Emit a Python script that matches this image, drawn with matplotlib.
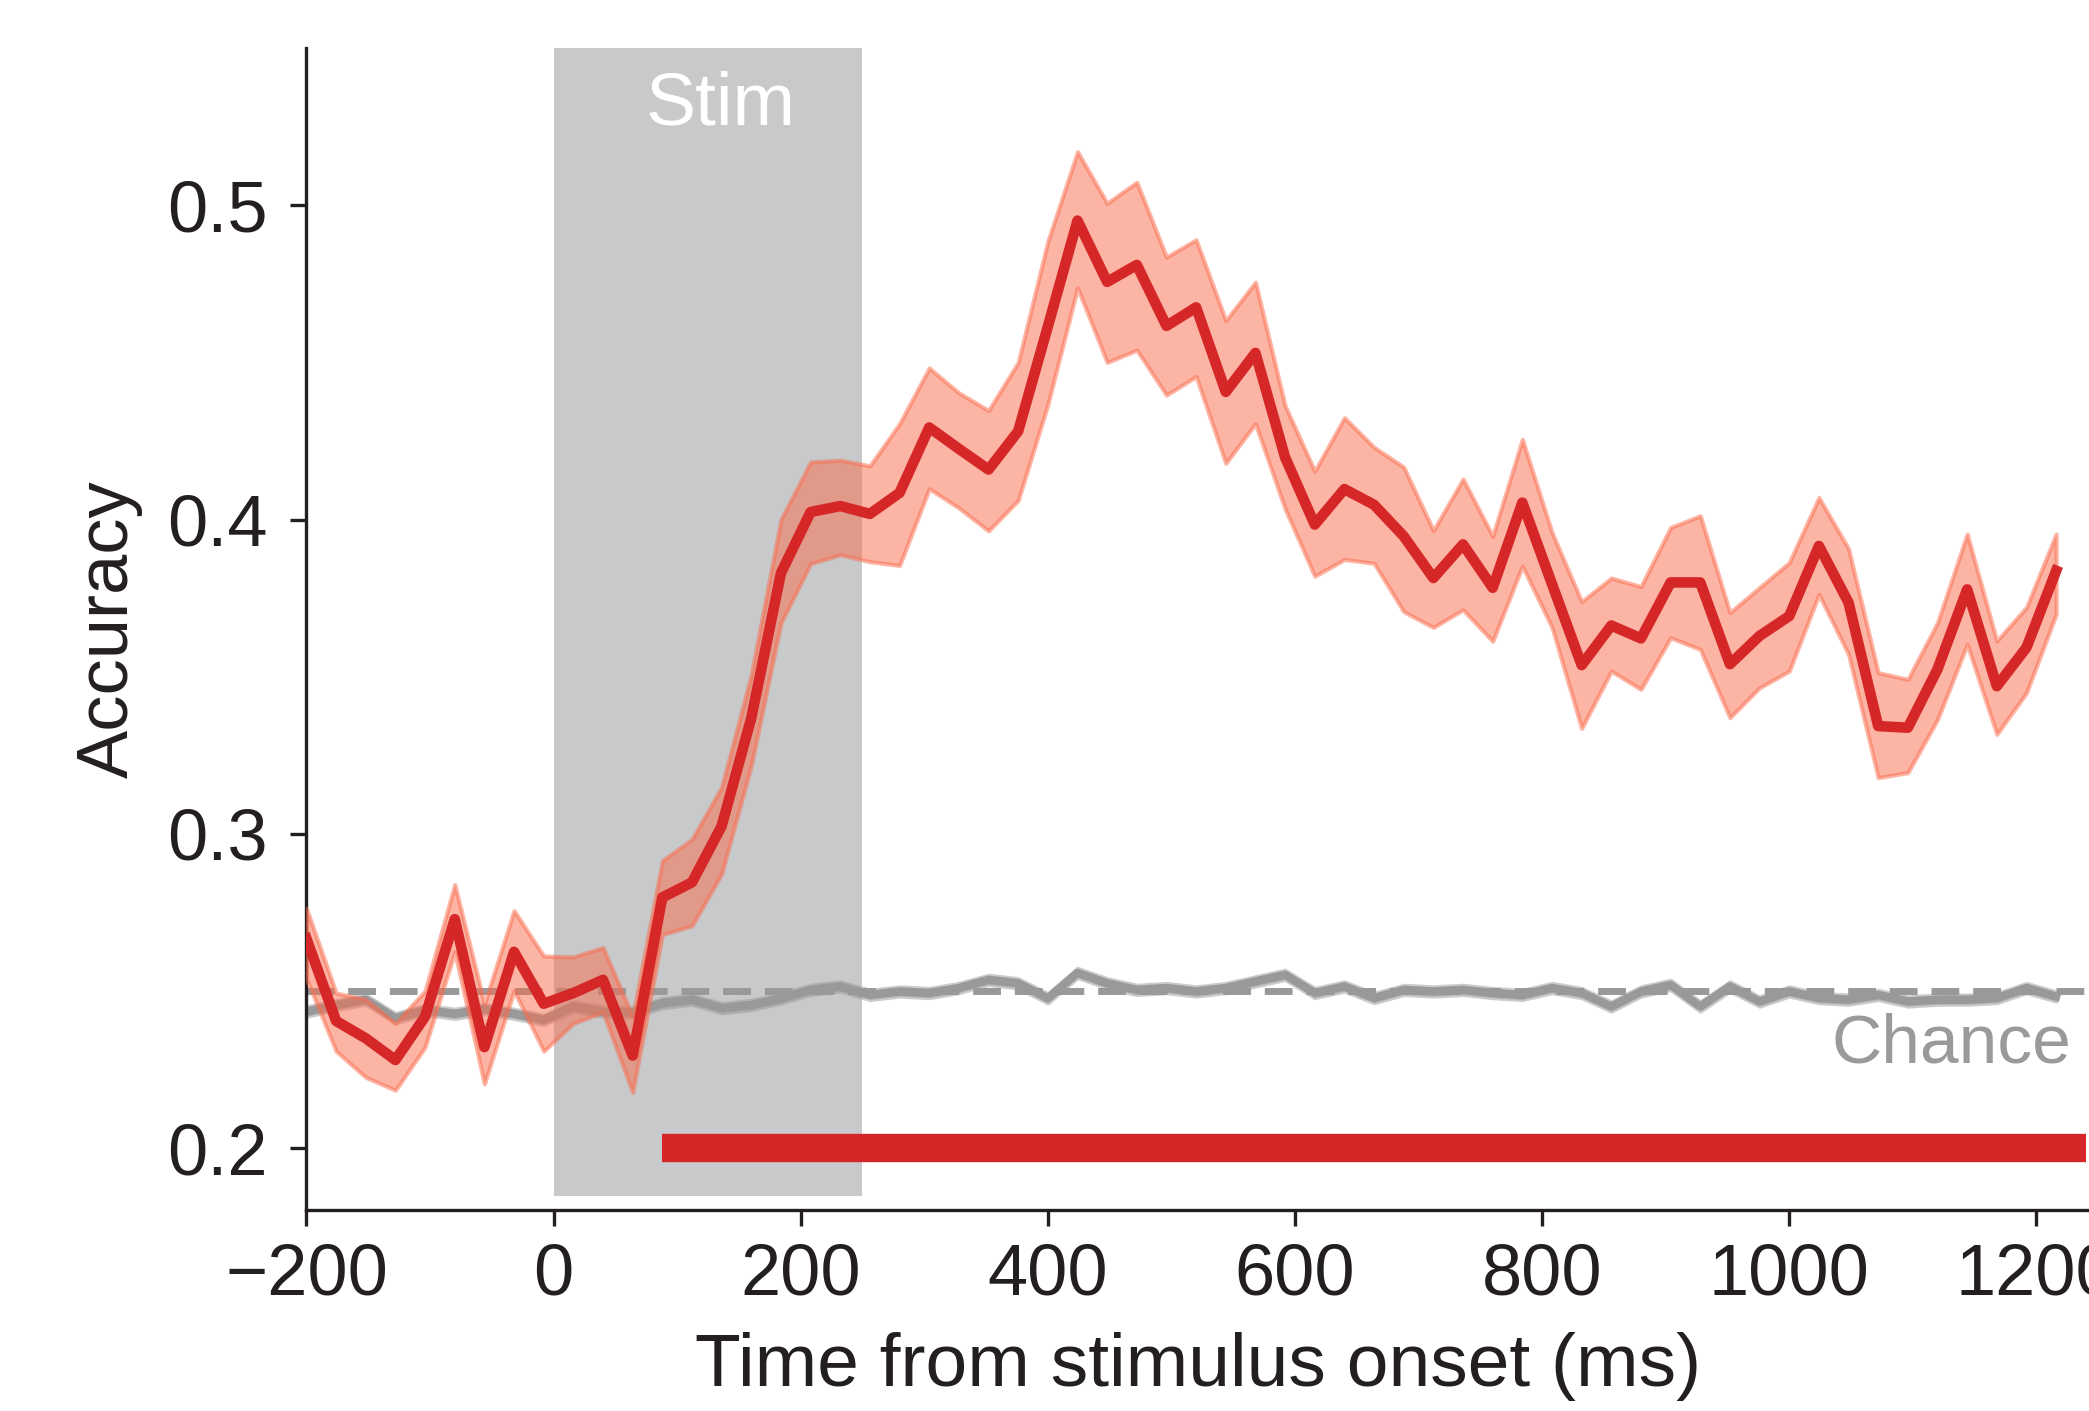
import numpy as np
import matplotlib
matplotlib.use("Agg")
import matplotlib.pyplot as plt

plt.rcParams['font.family'] = ['Liberation Sans', 'DejaVu Sans']

# sample times (ms), one every 24 ms
times = np.arange(-200, 1217, 24)

acc_mean = [0.2667, 0.2405, 0.2350, 0.2281, 0.2419, 0.2729, 0.2322, 0.2625, 0.2460, 0.2494,
            0.2536, 0.2295, 0.2798, 0.2846, 0.3025, 0.3369, 0.3830, 0.4024, 0.4043, 0.4018,
            0.4085, 0.4293, 0.4225, 0.4159, 0.4281, 0.4614, 0.4951, 0.4756, 0.4810, 0.4616,
            0.4675, 0.4406, 0.4530, 0.4198, 0.3984, 0.4097, 0.4047, 0.3947, 0.3814, 0.3921,
            0.3783, 0.4054, 0.3795, 0.3537, 0.3663, 0.3622, 0.3800, 0.3800, 0.3540, 0.3630,
            0.3693, 0.3916, 0.3736, 0.3343, 0.3338, 0.3524, 0.3778, 0.3470, 0.3593, 0.3837]
acc_upper = [0.2763, 0.2494, 0.2474, 0.2398, 0.2501, 0.2839, 0.2460, 0.2756, 0.2612, 0.2609,
             0.2639, 0.2419, 0.2915, 0.2983, 0.3149, 0.3507, 0.4000, 0.4183, 0.4189, 0.4171,
             0.4305, 0.4482, 0.4403, 0.4347, 0.4500, 0.4885, 0.5170, 0.5006, 0.5073, 0.4835,
             0.4890, 0.4633, 0.4755, 0.4362, 0.4154, 0.4324, 0.4230, 0.4167, 0.3965, 0.4129,
             0.3947, 0.4255, 0.3959, 0.3739, 0.3814, 0.3787, 0.3975, 0.4012, 0.3704, 0.3784,
             0.3863, 0.4070, 0.3907, 0.3513, 0.3492, 0.3672, 0.3954, 0.3614, 0.3721, 0.3954]
acc_lower = [0.2540, 0.2309, 0.2226, 0.2185, 0.2322, 0.2625, 0.2205, 0.2501, 0.2309, 0.2398,
             0.2433, 0.2178, 0.2680, 0.2708, 0.2873, 0.3218, 0.3671, 0.3860, 0.3888, 0.3866,
             0.3854, 0.4098, 0.4037, 0.3964, 0.4061, 0.4366, 0.4737, 0.4500, 0.4539, 0.4396,
             0.4455, 0.4179, 0.4305, 0.4034, 0.3820, 0.3873, 0.3861, 0.3707, 0.3657, 0.3713,
             0.3613, 0.3852, 0.3657, 0.3336, 0.3518, 0.3460, 0.3624, 0.3587, 0.3370, 0.3465,
             0.3518, 0.3762, 0.3571, 0.3179, 0.3195, 0.3364, 0.3603, 0.3317, 0.3449, 0.3699]

# shuffled-label (null) decoding
null_mean = [0.2435, 0.2456, 0.2473, 0.2414, 0.2440, 0.2428, 0.2443, 0.2428, 0.2409, 0.2451,
             0.2435, 0.2432, 0.2462, 0.2473, 0.2446, 0.2456, 0.2477, 0.2504, 0.2515, 0.2488,
             0.2499, 0.2494, 0.2510, 0.2536, 0.2525, 0.2477, 0.2558, 0.2525, 0.2504, 0.2510,
             0.2499, 0.2510, 0.2531, 0.2552, 0.2494, 0.2515, 0.2478, 0.2504, 0.2499, 0.2504,
             0.2494, 0.2488, 0.2510, 0.2494, 0.2451, 0.2499, 0.2520, 0.2451, 0.2515, 0.2467,
             0.2499, 0.2478, 0.2473, 0.2488, 0.2467, 0.2473, 0.2473, 0.2478, 0.2510, 0.2483]
null_halfwidth = 0.0015

sig_from = 88  # first significant sample (ms)
chance = 0.25
stim_on, stim_off = 0, 250

red = '#d62728'
band = '#fb6a4a'
grey = '#98999b'
ink = '#231f20'

fig = plt.figure(figsize=(2089 / 200, 1411 / 200), dpi=200)
ax = fig.add_axes([0.1467, 0.1427, 1 - 0.1467, 0.966 - 0.1427])

ylo, yhi = 0.1805, 0.55
ax.set_xlim(-200, 1242.6)
ax.set_ylim(ylo, yhi)

ax.axvspan(stim_on, stim_off, ymin=(0.1847 - ylo) / (yhi - ylo), ymax=1,
           color='#c8c9cb', lw=0, zorder=0)
ax.text(135, 0.532, 'Stim', color='white', fontsize=27, ha='center', va='center')

ax.axhline(chance, color=grey, lw=2.5, dashes=(4.0, 2.0), zorder=1)
nm = np.array(null_mean)
ax.fill_between(times, nm - null_halfwidth, nm + null_halfwidth, color=grey,
                alpha=0.5, lw=1.4, zorder=2)
ax.plot(times, nm, color=grey, lw=3.0, zorder=2)
ax.text(1228, 0.233, 'Chance', color='#9a9a9a', fontsize=25, ha='right', va='center')

ax.fill_between(times, acc_lower, acc_upper, color=band, alpha=0.5, lw=1.5, zorder=3)
ax.plot(times, acc_mean, color=red, lw=3.8, zorder=4, solid_joinstyle='round')

for t in times:
    if t >= sig_from:
        ax.plot([t, t + 24], [0.2, 0.2], color=red, lw=10.2,
                solid_capstyle='butt', zorder=5)

ax.set_xticks([-200, 0, 200, 400, 600, 800, 1000, 1200])
ax.set_yticks([0.2, 0.3, 0.4, 0.5])
ax.set_yticklabels(['0.2', '0.3', '0.4', '0.5'])

for side in ['top', 'right']:
    ax.spines[side].set_visible(False)
for side in ['left', 'bottom']:
    ax.spines[side].set_linewidth(1.2)
    ax.spines[side].set_color(ink)

ax.tick_params(axis='both', labelsize=26, length=5.8, width=1.2, color=ink, labelcolor=ink)
ax.tick_params(axis='y', pad=8)
ax.tick_params(axis='x', pad=6)

ax.set_xlabel('Time from stimulus onset (ms)', fontsize=27, color=ink, labelpad=8)
ax.set_ylabel('Accuracy', fontsize=26, color=ink, labelpad=9)

fig.savefig('out.png', dpi=200)
